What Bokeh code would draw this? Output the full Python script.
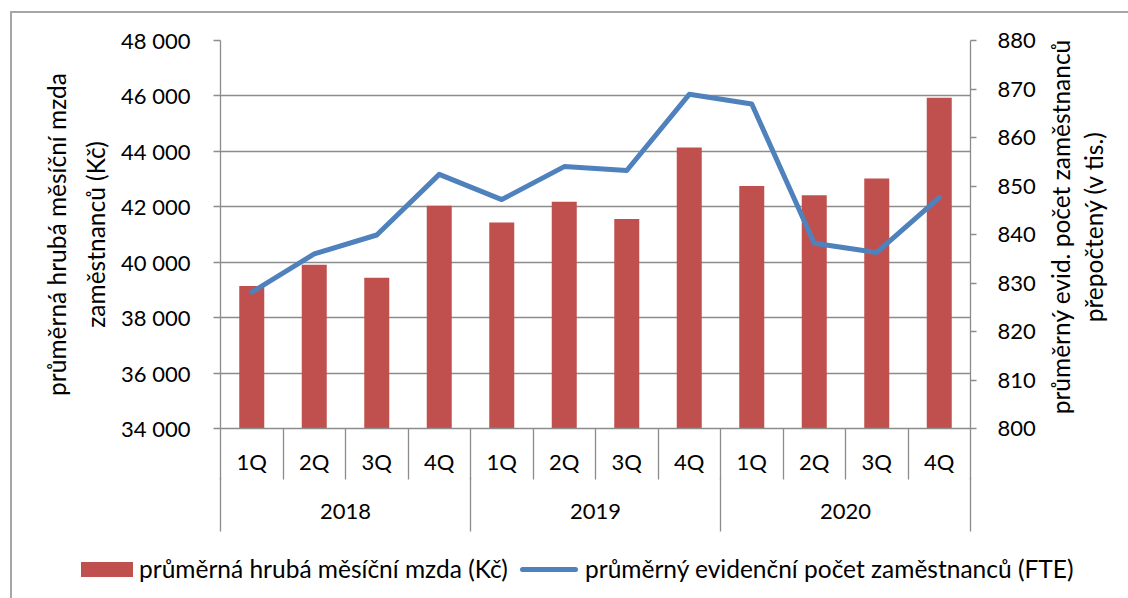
import numpy as np
from bokeh.plotting import figure
from bokeh.layouts import column, row
from bokeh.models import Range1d, LinearAxis, FixedTicker, Div
from bokeh.embed import file_html
from bokeh.resources import INLINE

# ---------------- data ----------------
years = ["2018", "2019", "2020"]
quarters = ["1Q", "2Q", "3Q", "4Q"]
wages = [39140, 39910, 39440, 42040, 41430, 42180, 41560, 44140,
         42750, 42420, 43020, 45930]
employees = [828.1, 836.0, 839.9, 852.4, 847.2, 854.0, 853.2, 868.9,
             866.9, 838.2, 836.3, 847.6]
wage_ticks = list(range(34000, 48001, 2000))
emp_ticks = list(range(800, 881, 10))
wage_title = "průměrná hrubá měsíční mzda\nzaměstnanců (Kč)"
emp_title = ["průměrný evid. počet zaměstnanců", "přepočtený (v tis.)"]
legend_labels = ["průměrná hrubá měsíční mzda (Kč)",
                 "průměrný evidenční počet zaměstnanců (FTE)"]

# ---------------- layout ----------------
FONT = "Lato"
OX, OY = 12, 13            # canvas origin inside the bordered box
W_ALL = 1108
W = 1045 - OX              # main figure width (right title lives in a Div)
FL, FT, FW, FH = 220 - OX, 40 - OY, 750, 388
BOT = 115
H1 = FT + FH + BOT
H2 = 590 - OY - H1
GRAY = "#8c8c8c"
BAR = "#C0504D"
LINE = "#4F81BD"
TITLE_PX = 24.5

n = len(wages)
nq = len(quarters)
xs = np.arange(n) + 0.5

p = figure(width=W, height=H1, output_backend="svg", toolbar_location=None,
           x_range=Range1d(0, n),
           y_range=Range1d(wage_ticks[0], wage_ticks[-1]),
           x_axis_location=None,
           min_border_left=FL, min_border_right=W - FL - FW,
           min_border_top=FT, min_border_bottom=BOT)
p.outline_line_color = None
p.border_fill_color = "white"
p.extra_y_ranges = {"emp": Range1d(emp_ticks[0], emp_ticks[-1])}

def fmt(t):
    return f"{t:,}".replace(",", " ")

def style_axis(ax, standoff, tick_out):
    ax.axis_line_color = GRAY
    ax.axis_line_width = 1.3
    ax.major_tick_line_color = GRAY
    ax.major_tick_line_width = 1.3
    ax.major_tick_in = 0
    ax.major_tick_out = tick_out
    ax.minor_tick_line_color = None
    ax.major_label_standoff = standoff
    ax.major_label_text_font = FONT
    ax.major_label_text_font_size = "22px"
    ax.major_label_text_color = "black"
    ax.axis_label_text_font = FONT
    ax.axis_label_text_font_size = f"{TITLE_PX}px"
    ax.axis_label_text_font_style = "normal"
    ax.axis_label_text_color = "black"
    ax.axis_label_text_line_height = 1.35

# left value axis
ya = p.yaxis[0]
ya.ticker = FixedTicker(ticks=wage_ticks)
ya.major_label_overrides = {t: fmt(t) for t in wage_ticks}
style_axis(ya, 23, 7)
ya.axis_label = wage_title
ya.axis_label_standoff = 8

# right value axis
ra = LinearAxis(y_range_name="emp", ticker=FixedTicker(ticks=emp_ticks))
style_axis(ra, 21, 6)
p.add_layout(ra, "right")

p.xgrid.visible = False
p.ygrid.ticker = FixedTicker(ticks=wage_ticks)
p.ygrid.grid_line_color = GRAY
p.ygrid.grid_line_width = 1.3

# bars and line
p.vbar(x=xs, top=wages, bottom=wage_ticks[0], width=0.4,
       fill_color=BAR, line_color=None)
p.line(xs, employees, y_range_name="emp", line_width=5, color=LINE,
       line_join="round", line_cap="round")

# category axis: quarters (separators are minor ticks)
qa = LinearAxis(ticker=FixedTicker(ticks=list(xs),
                                   minor_ticks=list(range(0, n + 1))))
style_axis(qa, -32, 0)
qa.major_tick_line_color = None
qa.minor_tick_line_color = GRAY
qa.minor_tick_line_width = 1.3
qa.minor_tick_in = 0
qa.minor_tick_out = 51
qa.major_label_overrides = {float(x): quarters[i % nq] for i, x in enumerate(xs)}
p.add_layout(qa, "below")

# category axis: years
ycent = [i * nq + nq / 2 for i in range(len(years))]
ybound = list(range(0, n + 1, nq))
ka = LinearAxis(ticker=FixedTicker(ticks=ycent, minor_ticks=ybound))
style_axis(ka, -28, 0)
ka.axis_line_color = None
ka.major_tick_line_color = None
ka.minor_tick_line_color = GRAY
ka.minor_tick_line_width = 1.3
ka.minor_tick_in = 0
ka.minor_tick_out = 54
ka.major_label_overrides = {float(c): years[i] for i, c in enumerate(ycent)}
p.add_layout(ka, "below")

# right axis title (bottom-to-top text, two lines)
RW = W_ALL - W
rcx, rcy = 1072 - (OX + W), 222 - OY
rhtml = (
    f'<div style="position:relative;width:{RW}px;height:{H1}px;">'
    f'<div style="position:absolute;left:{rcx}px;top:{rcy}px;'
    f'writing-mode:vertical-rl;transform:translate(-50%,-50%) rotate(180deg);'
    f'font-family:{FONT};font-size:{TITLE_PX}px;line-height:33px;'
    f'text-align:center;white-space:nowrap;color:black;">'
    + "<br>".join(emp_title) + "</div></div>"
)
right_title = Div(text=rhtml, width=RW, height=H1)

# legend strip
def span(left, top, inner, extra=""):
    return (f'<span style="position:absolute;left:{left}px;top:{top}px;'
            f'{extra}">{inner}</span>')

DX, DY = -5, -14
lh = 50
html = (
    f'<div style="position:relative;width:{W_ALL}px;height:{H2}px;'
    f'font-family:{FONT};font-size:{TITLE_PX}px;color:black;white-space:nowrap;">'
    + span(81 - OX + DX, 18 + DY, "", f"width:52px;height:15px;background:{BAR};")
    + span(139 - OX + DX, DY, legend_labels[0], f"line-height:{lh}px;")
    + span(520 - OX + DX, 23 + DY, "",
           f"width:58px;height:5px;border-radius:3px;background:{LINE};")
    + span(585 - OX + DX, DY, legend_labels[1], f"line-height:{lh}px;")
    + "</div>"
)
legend_div = Div(text=html, width=W_ALL, height=H2)

page = column(row(p, right_title, spacing=0), legend_div, spacing=0)
page.styles = {"margin-left": "10px", "margin-top": "11px",
               "border-left": "2px solid #a6a6a6",
               "border-top": "2px solid #a6a6a6"}

open("out.html", "w").write(file_html(page, INLINE))
